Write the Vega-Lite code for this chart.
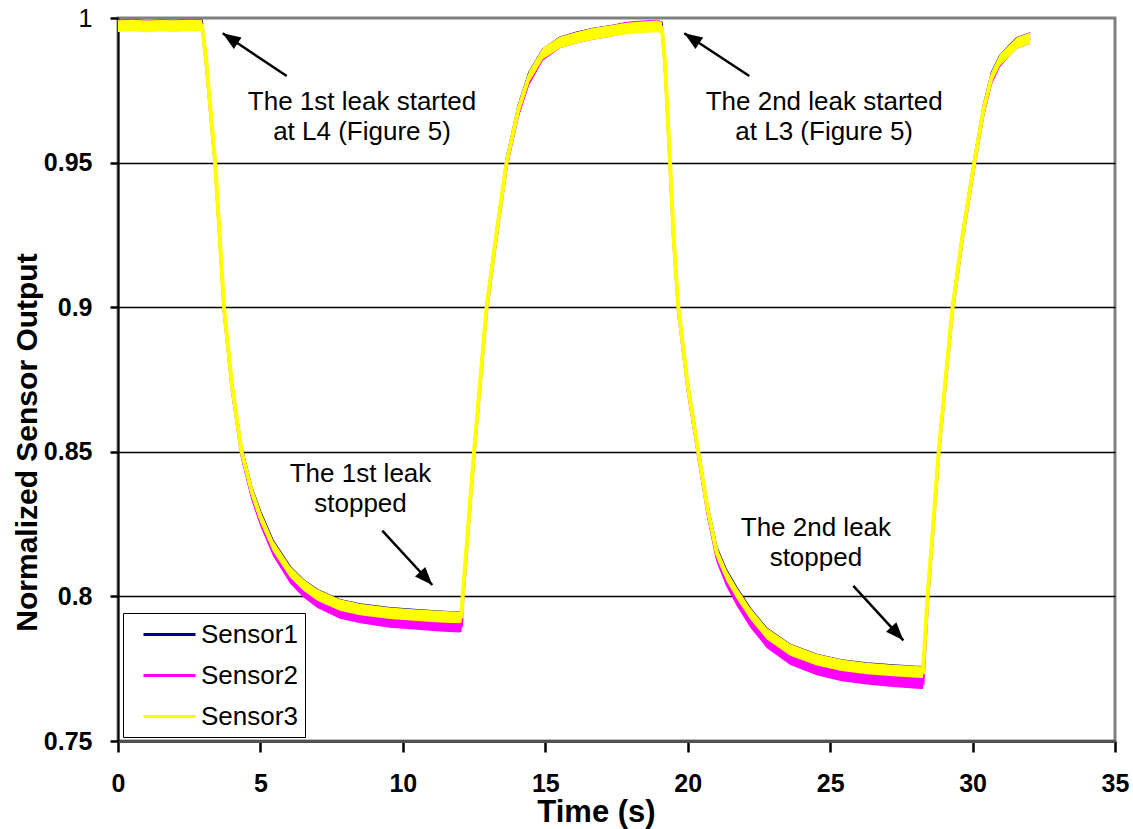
{
"$schema": "https://vega.github.io/schema/vega-lite/v6.json",
"width": 997, "height": 723,
"autosize": "none",
"padding": {"left": 118, "top": 18, "right": 18, "bottom": 88},
"background": "white",
"config": {
  "font": "Liberation Sans",
  "view": {"stroke": "#808080", "strokeWidth": 3},
  "legend": {"symbolType": "M-2,0H2", "symbolSize": 676, "symbolStrokeWidth": 3, "labelFontSize": 26, "labelColor": "black", "rowPadding": 13, "padding": 7, "symbolOffset": 25, "labelOffset": 17, "fillColor": "white", "strokeColor": "black", "cornerRadius": 0}
},
"datasets": {
  "sensors": [
    {"t":0,"s1":0.999,"s2":0.9975,"s2lo":0.9955,"s2hi":0.9995,"s3":0.9972,"s3lo":0.9952,"s3hi":0.9992},
    {"t":0.5,"s1":0.9992,"s2":0.9977,"s2lo":0.9957,"s2hi":0.9997,"s3":0.9974,"s3lo":0.9954,"s3hi":0.9994},
    {"t":1.0,"s1":0.9989,"s2":0.9974,"s2lo":0.9954,"s2hi":0.9994,"s3":0.9971,"s3lo":0.9951,"s3hi":0.9991},
    {"t":1.5,"s1":0.9991,"s2":0.9976,"s2lo":0.9956,"s2hi":0.9996,"s3":0.9973,"s3lo":0.9953,"s3hi":0.9993},
    {"t":2.0,"s1":0.999,"s2":0.9975,"s2lo":0.9955,"s2hi":0.9995,"s3":0.9972,"s3lo":0.9952,"s3hi":0.9992},
    {"t":2.5,"s1":0.9992,"s2":0.9977,"s2lo":0.9957,"s2hi":0.9997,"s3":0.9974,"s3lo":0.9954,"s3hi":0.9994},
    {"t":2.95,"s1":0.9991,"s2":0.9976,"s2lo":0.9956,"s2hi":0.9996,"s3":0.9973,"s3lo":0.9953,"s3hi":0.9993},
    {"t":3.1,"s1":0.9865,"s2":0.984,"s2lo":0.982,"s2hi":0.986,"s3":0.985,"s3lo":0.983,"s3hi":0.987},
    {"t":3.25,"s1":0.9695,"s2":0.967,"s2lo":0.965,"s2hi":0.969,"s3":0.968,"s3lo":0.966,"s3hi":0.97},
    {"t":3.41,"s1":0.9515,"s2":0.949,"s2lo":0.947,"s2hi":0.951,"s3":0.95,"s3lo":0.948,"s3hi":0.952},
    {"t":3.55,"s1":0.9295,"s2":0.927,"s2lo":0.925,"s2hi":0.929,"s3":0.928,"s3lo":0.926,"s3hi":0.93},
    {"t":3.72,"s1":0.9015,"s2":0.899,"s2lo":0.897,"s2hi":0.901,"s3":0.9,"s3lo":0.898,"s3hi":0.902},
    {"t":4.0,"s1":0.8745,"s2":0.872,"s2lo":0.87,"s2hi":0.874,"s3":0.873,"s3lo":0.871,"s3hi":0.875},
    {"t":4.34,"s1":0.8515,"s2":0.849,"s2lo":0.847,"s2hi":0.851,"s3":0.85,"s3lo":0.848,"s3hi":0.852},
    {"t":4.7,"s1":0.8375,"s2":0.8348,"s2lo":0.8328,"s2hi":0.8368,"s3":0.836,"s3lo":0.834,"s3hi":0.838},
    {"t":5.0,"s1":0.8293,"s2":0.8262,"s2lo":0.8242,"s2hi":0.8282,"s3":0.8275,"s3lo":0.8255,"s3hi":0.8295},
    {"t":5.44,"s1":0.8193,"s2":0.816,"s2lo":0.814,"s2hi":0.818,"s3":0.8175,"s3lo":0.8155,"s3hi":0.8195},
    {"t":6.04,"s1":0.8103,"s2":0.8065,"s2lo":0.8045,"s2hi":0.8085,"s3":0.8085,"s3lo":0.8065,"s3hi":0.8105},
    {"t":6.5,"s1":0.8058,"s2":0.8017,"s2lo":0.7997,"s2hi":0.8037,"s3":0.804,"s3lo":0.802,"s3hi":0.806},
    {"t":7.0,"s1":0.8023,"s2":0.798,"s2lo":0.796,"s2hi":0.8,"s3":0.8005,"s3lo":0.7985,"s3hi":0.8025},
    {"t":7.79,"s1":0.7988,"s2":0.7943,"s2lo":0.7923,"s2hi":0.7963,"s3":0.797,"s3lo":0.795,"s3hi":0.799},
    {"t":8.5,"s1":0.7973,"s2":0.7927,"s2lo":0.7907,"s2hi":0.7947,"s3":0.7955,"s3lo":0.7935,"s3hi":0.7975},
    {"t":9.54,"s1":0.796,"s2":0.7912,"s2lo":0.7892,"s2hi":0.7932,"s3":0.7942,"s3lo":0.7922,"s3hi":0.7962},
    {"t":10.5,"s1":0.7953,"s2":0.7905,"s2lo":0.7885,"s2hi":0.7925,"s3":0.7935,"s3lo":0.7915,"s3hi":0.7955},
    {"t":11.3,"s1":0.7948,"s2":0.7899,"s2lo":0.7879,"s2hi":0.7919,"s3":0.793,"s3lo":0.791,"s3hi":0.795},
    {"t":12.0,"s1":0.7945,"s2":0.7895,"s2lo":0.7875,"s2hi":0.7915,"s3":0.7927,"s3lo":0.7907,"s3hi":0.7947},
    {"t":12.06,"s1":0.7948,"s2":0.7898,"s2lo":0.7878,"s2hi":0.7918,"s3":0.793,"s3lo":0.791,"s3hi":0.795},
    {"t":12.1,"s1":0.8015,"s2":0.798,"s2lo":0.796,"s2hi":0.8,"s3":0.8,"s3lo":0.798,"s3hi":0.802},
    {"t":12.3,"s1":0.8265,"s2":0.824,"s2lo":0.822,"s2hi":0.826,"s3":0.825,"s3lo":0.823,"s3hi":0.827},
    {"t":12.5,"s1":0.8515,"s2":0.849,"s2lo":0.847,"s2hi":0.851,"s3":0.85,"s3lo":0.848,"s3hi":0.852},
    {"t":12.72,"s1":0.8765,"s2":0.874,"s2lo":0.872,"s2hi":0.876,"s3":0.875,"s3lo":0.873,"s3hi":0.877},
    {"t":12.94,"s1":0.9015,"s2":0.899,"s2lo":0.897,"s2hi":0.901,"s3":0.9,"s3lo":0.898,"s3hi":0.902},
    {"t":13.28,"s1":0.9265,"s2":0.924,"s2lo":0.922,"s2hi":0.926,"s3":0.925,"s3lo":0.923,"s3hi":0.927},
    {"t":13.64,"s1":0.9515,"s2":0.949,"s2lo":0.947,"s2hi":0.951,"s3":0.95,"s3lo":0.948,"s3hi":0.952},
    {"t":14.05,"s1":0.9697,"s2":0.9672,"s2lo":0.9652,"s2hi":0.9692,"s3":0.9682,"s3lo":0.9662,"s3hi":0.9702},
    {"t":14.43,"s1":0.9812,"s2":0.9787,"s2lo":0.9767,"s2hi":0.9807,"s3":0.9797,"s3lo":0.9777,"s3hi":0.9817},
    {"t":14.92,"s1":0.9893,"s2":0.9873,"s2lo":0.9853,"s2hi":0.9893,"s3":0.9878,"s3lo":0.9858,"s3hi":0.9898},
    {"t":15.52,"s1":0.9933,"s2":0.9915,"s2lo":0.9895,"s2hi":0.9935,"s3":0.9915,"s3lo":0.9895,"s3hi":0.9935},
    {"t":16.1,"s1":0.995,"s2":0.9932,"s2lo":0.9912,"s2hi":0.9952,"s3":0.9932,"s3lo":0.9912,"s3hi":0.9952},
    {"t":16.68,"s1":0.9963,"s2":0.9945,"s2lo":0.9925,"s2hi":0.9965,"s3":0.9945,"s3lo":0.9925,"s3hi":0.9965},
    {"t":17.3,"s1":0.9973,"s2":0.9955,"s2lo":0.9935,"s2hi":0.9975,"s3":0.9955,"s3lo":0.9935,"s3hi":0.9975},
    {"t":17.86,"s1":0.9982,"s2":0.9967,"s2lo":0.9947,"s2hi":0.9987,"s3":0.9964,"s3lo":0.9944,"s3hi":0.9984},
    {"t":18.4,"s1":0.9986,"s2":0.9971,"s2lo":0.9951,"s2hi":0.9991,"s3":0.9968,"s3lo":0.9948,"s3hi":0.9988},
    {"t":18.91,"s1":0.9989,"s2":0.9974,"s2lo":0.9954,"s2hi":0.9994,"s3":0.9971,"s3lo":0.9951,"s3hi":0.9991},
    {"t":19.09,"s1":0.9984,"s2":0.9969,"s2lo":0.9949,"s2hi":0.9989,"s3":0.9966,"s3lo":0.9946,"s3hi":0.9986},
    {"t":19.2,"s1":0.9865,"s2":0.984,"s2lo":0.982,"s2hi":0.986,"s3":0.985,"s3lo":0.983,"s3hi":0.987},
    {"t":19.38,"s1":0.9515,"s2":0.949,"s2lo":0.947,"s2hi":0.951,"s3":0.95,"s3lo":0.948,"s3hi":0.952},
    {"t":19.5,"s1":0.9265,"s2":0.924,"s2lo":0.922,"s2hi":0.926,"s3":0.925,"s3lo":0.923,"s3hi":0.927},
    {"t":19.67,"s1":0.9015,"s2":0.899,"s2lo":0.897,"s2hi":0.901,"s3":0.9,"s3lo":0.898,"s3hi":0.902},
    {"t":20.0,"s1":0.8745,"s2":0.872,"s2lo":0.87,"s2hi":0.874,"s3":0.873,"s3lo":0.871,"s3hi":0.875},
    {"t":20.37,"s1":0.8515,"s2":0.849,"s2lo":0.847,"s2hi":0.851,"s3":0.85,"s3lo":0.848,"s3hi":0.852},
    {"t":20.7,"s1":0.8315,"s2":0.8288,"s2lo":0.8268,"s2hi":0.8308,"s3":0.83,"s3lo":0.828,"s3hi":0.832},
    {"t":21.02,"s1":0.8169,"s2":0.8136,"s2lo":0.8116,"s2hi":0.8156,"s3":0.8151,"s3lo":0.8131,"s3hi":0.8171},
    {"t":21.35,"s1":0.8093,"s2":0.8055,"s2lo":0.8035,"s2hi":0.8075,"s3":0.8075,"s3lo":0.8055,"s3hi":0.8095},
    {"t":21.72,"s1":0.803,"s2":0.7987,"s2lo":0.7967,"s2hi":0.8007,"s3":0.8012,"s3lo":0.7992,"s3hi":0.8032},
    {"t":22.2,"s1":0.7958,"s2":0.7912,"s2lo":0.7892,"s2hi":0.7932,"s3":0.794,"s3lo":0.792,"s3hi":0.796},
    {"t":22.77,"s1":0.789,"s2":0.7842,"s2lo":0.7822,"s2hi":0.7862,"s3":0.7872,"s3lo":0.7852,"s3hi":0.7892},
    {"t":23.6,"s1":0.7833,"s2":0.7783,"s2lo":0.7763,"s2hi":0.7803,"s3":0.7815,"s3lo":0.7795,"s3hi":0.7835},
    {"t":24.53,"s1":0.7799,"s2":0.7747,"s2lo":0.7727,"s2hi":0.7767,"s3":0.7781,"s3lo":0.7761,"s3hi":0.7801},
    {"t":25.4,"s1":0.778,"s2":0.7727,"s2lo":0.7707,"s2hi":0.7747,"s3":0.7762,"s3lo":0.7742,"s3hi":0.7782},
    {"t":26.28,"s1":0.7769,"s2":0.7715,"s2lo":0.7695,"s2hi":0.7735,"s3":0.7751,"s3lo":0.7731,"s3hi":0.7771},
    {"t":27.2,"s1":0.7762,"s2":0.7707,"s2lo":0.7687,"s2hi":0.7727,"s3":0.7744,"s3lo":0.7724,"s3hi":0.7764},
    {"t":28.04,"s1":0.7757,"s2":0.7701,"s2lo":0.7681,"s2hi":0.7721,"s3":0.7739,"s3lo":0.7719,"s3hi":0.7759},
    {"t":28.26,"s1":0.7756,"s2":0.77,"s2lo":0.768,"s2hi":0.772,"s3":0.7738,"s3lo":0.7718,"s3hi":0.7758},
    {"t":28.42,"s1":0.8015,"s2":0.798,"s2lo":0.796,"s2hi":0.8,"s3":0.8,"s3lo":0.798,"s3hi":0.802},
    {"t":28.62,"s1":0.8265,"s2":0.824,"s2lo":0.822,"s2hi":0.826,"s3":0.825,"s3lo":0.823,"s3hi":0.827},
    {"t":28.81,"s1":0.8515,"s2":0.849,"s2lo":0.847,"s2hi":0.851,"s3":0.85,"s3lo":0.848,"s3hi":0.852},
    {"t":29.05,"s1":0.8765,"s2":0.874,"s2lo":0.872,"s2hi":0.876,"s3":0.875,"s3lo":0.873,"s3hi":0.877},
    {"t":29.3,"s1":0.9015,"s2":0.899,"s2lo":0.897,"s2hi":0.901,"s3":0.9,"s3lo":0.898,"s3hi":0.902},
    {"t":29.65,"s1":0.9265,"s2":0.924,"s2lo":0.922,"s2hi":0.926,"s3":0.925,"s3lo":0.923,"s3hi":0.927},
    {"t":30.06,"s1":0.9515,"s2":0.949,"s2lo":0.947,"s2hi":0.951,"s3":0.95,"s3lo":0.948,"s3hi":0.952},
    {"t":30.38,"s1":0.9697,"s2":0.9672,"s2lo":0.9652,"s2hi":0.9692,"s3":0.9682,"s3lo":0.9662,"s3hi":0.9702},
    {"t":30.67,"s1":0.9812,"s2":0.9789,"s2lo":0.9769,"s2hi":0.9809,"s3":0.9797,"s3lo":0.9777,"s3hi":0.9817},
    {"t":30.96,"s1":0.987,"s2":0.985,"s2lo":0.983,"s2hi":0.987,"s3":0.9855,"s3lo":0.9835,"s3hi":0.9875},
    {"t":31.3,"s1":0.9906,"s2":0.9888,"s2lo":0.9868,"s2hi":0.9908,"s3":0.9888,"s3lo":0.9868,"s3hi":0.9908},
    {"t":31.55,"s1":0.9931,"s2":0.9913,"s2lo":0.9893,"s2hi":0.9933,"s3":0.9913,"s3lo":0.9893,"s3hi":0.9933},
    {"t":32.02,"s1":0.9948,"s2":0.993,"s2lo":0.991,"s2hi":0.995,"s3":0.993,"s3lo":0.991,"s3hi":0.995}
  ],
  "arrows": [
    {"t":5.922,"v":0.97994,"t2":3.675,"v2":0.99471,"kind":"start"},
    {"t":22.162,"v":0.97994,"t2":19.88,"v2":0.99471,"kind":"start"},
    {"t":9.278,"v":0.82272,"t2":11.034,"v2":0.80394,"kind":"stop"},
    {"t":25.813,"v":0.80367,"t2":27.57,"v2":0.78482,"kind":"stop"}
  ],
  "notes": [
    {"t":8.566,"v":0.96819,"label":"The 1st leak started"},
    {"t":8.566,"v":0.95781,"label":"at L4 (Figure 5)"},
    {"t":24.79,"v":0.96819,"label":"The 2nd leak started"},
    {"t":24.79,"v":0.95781,"label":"at L3 (Figure 5)"},
    {"t":8.513,"v":0.83966,"label":"The 1st leak"},
    {"t":8.513,"v":0.82929,"label":"stopped"},
    {"t":24.5,"v":0.82102,"label":"The 2nd leak"},
    {"t":24.5,"v":0.81034,"label":"stopped"}
  ]
},
"layer": [
  {
    "data": {"name": "sensors"},
    "mark": {"type": "line", "strokeWidth": 1.8, "clip": true},
    "encoding": {
      "x": {"field": "t", "type": "quantitative", "scale": {"domain": [0, 35], "nice": false, "zero": false},
        "axis": {"values": [0,5,10,15,20,25,30,35], "title": "Time (s)", "titleFontSize": 31, "titleFontWeight": "bold", "titleColor": "black", "titleX": 478, "titleY": 80, "titleAlign": "center", "titleBaseline": "alphabetic", "labelFontSize": 25, "labelFontWeight": "bold", "labelColor": "black", "labelPadding": 19, "labelFlush": false, "labelOverlap": false, "tickSize": 11, "tickWidth": 2.5, "tickColor": "black", "domainColor": "#505050", "domainWidth": 3, "grid": false}},
      "y": {"field": "s1", "type": "quantitative", "scale": {"domain": [0.75, 1], "nice": false, "zero": false},
        "axis": {"values": [0.75,0.8,0.85,0.9,0.95,1], "format": ".2~f", "title": "Normalized Sensor Output", "titleFontSize": 30, "titleFontWeight": "bold", "titleColor": "black", "titleAngle": 270, "titleX": -91, "titleY": 424, "titleAlign": "center", "titleBaseline": "middle", "labelFontSize": 25, "labelFontWeight": {"condition": {"test": "datum.value == 1", "value": "normal"}, "value": "bold"}, "labelColor": "black", "labelPadding": 18, "labelFlush": false, "labelOverlap": false, "tickSize": 8, "tickWidth": 2.5, "tickColor": "black", "domainColor": "black", "domainWidth": 2, "grid": true, "gridColor": "black", "gridWidth": 1.3, "gridOpacity": {"condition": {"test": "datum.value < 0.76 || datum.value > 0.99", "value": 0}, "value": 1}}},
      "color": {"datum": "Sensor1", "type": "nominal", "scale": {"domain": ["Sensor1","Sensor2","Sensor3"], "range": ["#000080","#FF00FF","#FFFF00"]}, "legend": {"title": null, "orient": "none", "legendX": 5, "legendY": 595}}
    }
  },
  {
    "data": {"name": "sensors"},
    "mark": {"type": "area", "color": "#FF00FF", "opacity": 1, "clip": true},
    "encoding": {
      "x": {"field": "t", "type": "quantitative"},
      "y": {"field": "s2lo", "type": "quantitative"},
      "y2": {"field": "s2hi"}
    }
  },
  {
    "data": {"name": "sensors"},
    "mark": {"type": "line", "strokeWidth": 3, "clip": true},
    "encoding": {
      "x": {"field": "t", "type": "quantitative"},
      "y": {"field": "s2", "type": "quantitative"},
      "color": {"datum": "Sensor2", "type": "nominal"}
    }
  },
  {
    "data": {"name": "sensors"},
    "mark": {"type": "area", "color": "#FFFF00", "opacity": 1, "clip": true},
    "encoding": {
      "x": {"field": "t", "type": "quantitative"},
      "y": {"field": "s3lo", "type": "quantitative"},
      "y2": {"field": "s3hi"}
    }
  },
  {
    "data": {"name": "sensors"},
    "mark": {"type": "line", "strokeWidth": 4, "clip": true},
    "encoding": {
      "x": {"field": "t", "type": "quantitative"},
      "y": {"field": "s3", "type": "quantitative"},
      "color": {"datum": "Sensor3", "type": "nominal"}
    }
  },
  {
    "data": {"name": "arrows"},
    "mark": {"type": "rule", "strokeWidth": 2.5, "color": "black"},
    "encoding": {
      "x": {"field": "t", "type": "quantitative"},
      "y": {"field": "v", "type": "quantitative"},
      "x2": {"field": "t2"},
      "y2": {"field": "v2"}
    }
  },
  {
    "data": {"name": "arrows"},
    "transform": [{"filter": "datum.kind == 'start'"}],
    "mark": {"type": "point", "shape": "M0,0L-0.7,1.8L0.7,1.8Z", "size": 400, "angle": 303.5, "filled": true, "color": "black", "opacity": 1, "strokeWidth": 0},
    "encoding": {
      "x": {"field": "t2", "type": "quantitative"},
      "y": {"field": "v2", "type": "quantitative"}
    }
  },
  {
    "data": {"name": "arrows"},
    "transform": [{"filter": "datum.kind == 'stop'"}],
    "mark": {"type": "point", "shape": "M0,0L-0.7,1.8L0.7,1.8Z", "size": 400, "angle": 137.5, "filled": true, "color": "black", "opacity": 1, "strokeWidth": 0},
    "encoding": {
      "x": {"field": "t2", "type": "quantitative"},
      "y": {"field": "v2", "type": "quantitative"}
    }
  },
  {
    "data": {"name": "notes"},
    "mark": {"type": "text", "fontSize": 26, "align": "center", "baseline": "alphabetic", "color": "black"},
    "encoding": {
      "x": {"field": "t", "type": "quantitative"},
      "y": {"field": "v", "type": "quantitative"},
      "text": {"field": "label"}
    }
  }
]
}
